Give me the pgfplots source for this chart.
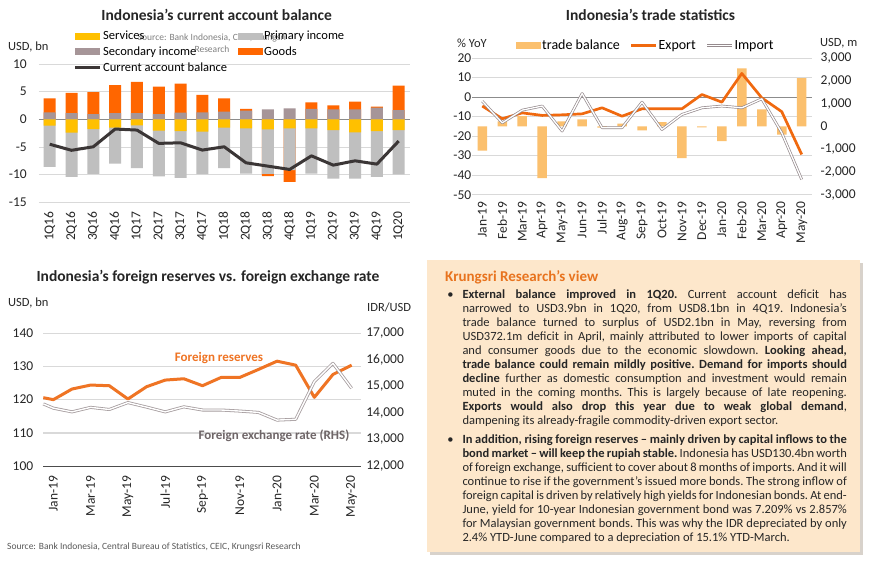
\documentclass[border=0pt]{standalone}
\usepackage{fontspec}
\setmainfont{Carlito}
\usepackage{pgfplots}
\usepackage{pgfplotstable}
\pgfplotsset{compat=1.18}

\definecolor{cGoods}{HTML}{FF6600}
\definecolor{cServ}{HTML}{FFC000}
\definecolor{cPrim}{HTML}{BFBFBF}
\definecolor{cSec}{HTML}{A69598}
\definecolor{cCA}{HTML}{3B3636}
\definecolor{cBal}{HTML}{FBC06E}
\definecolor{cExp}{HTML}{F0690F}
\definecolor{cImp}{HTML}{958A8D}
\definecolor{cRes}{HTML}{EF7424}
\definecolor{cGrid}{HTML}{D9D9D9}
\definecolor{cZero}{HTML}{8C8C8C}
\definecolor{cBox}{HTML}{FDE7CB}
\definecolor{cShadow}{HTML}{D8D2CB}
\definecolor{cHead}{HTML}{E8731E}
\definecolor{cTxt}{HTML}{262626}
\definecolor{cNote}{HTML}{6E6567}

\newcommand\tickfont{\fontsize{13.5}{15}\selectfont}
\newcommand\titlefont{\fontsize{15.5}{17}\selectfont\bfseries}
\newcommand\bul{\makebox[0pt][r]{\textbullet\hspace{9pt}}}

% current account, USD bn
\pgfplotstableread{
x q goods sec serv prim ca
0 1Q16 2.53 1.27 -1.15 -7.45 -4.50
1 2Q16 3.70 1.10 -2.40 -8.00 -5.60
2 3Q16 3.94 0.96 -1.76 -8.09 -4.96
3 4Q16 5.10 1.10 -1.50 -6.50 -1.76
4 1Q17 5.66 1.10 -1.10 -7.70 -1.94
5 2Q17 4.94 0.96 -2.06 -8.24 -4.35
6 3Q17 5.25 1.20 -2.12 -8.48 -4.24
7 4Q17 3.13 1.27 -2.24 -7.66 -5.56
8 1Q18 2.42 1.38 -1.50 -7.30 -4.96
9 2Q18 0.30 1.57 -1.63 -8.17 -7.86
10 3Q18 -0.42 1.80 -1.80 -8.05 -8.46
11 4Q18 -2.10 2.00 -1.63 -7.57 -9.06
12 1Q19 1.21 1.87 -1.63 -8.17 -6.60
13 2Q19 0.74 1.80 -1.94 -8.76 -8.28
14 3Q19 1.40 1.80 -2.36 -8.34 -7.50
15 4Q19 0.18 2.10 -2.12 -8.28 -8.10
16 1Q20 4.42 1.68 -1.94 -8.02 -3.93
}\cadata

% trade: balance USD m, export/import % YoY
\pgfplotstableread{
x m bal exp imp
0 Jan-19 -1070 -4.6 -2.1
1 Feb-19 220 -11.1 -13.2
2 Mar-19 450 -8.1 -6.7
3 Apr-19 -2270 -9.4 -4.6
4 May-19 220 -9.1 -17.4
5 Jun-19 310 -8.6 1.8
6 Jul-19 -60 -5.5 -15.7
7 Aug-19 120 -9.8 -15.7
8 Sep-19 -175 -6.0 -2.6
9 Oct-19 190 -6.0 -16.6
10 Nov-19 -1390 -6.0 -8.9
11 Dec-19 -40 1.3 -5.5
12 Jan-20 -645 -2.6 -4.6
13 Feb-20 2550 12.1 -5.5
14 Mar-20 750 -0.4 -0.9
15 Apr-20 -365 -7.5 -18.3
16 May-20 2120 -29.4 -42.2
}\trade

% reserves USD bn, IDR/USD
\pgfplotstableread{
x res fx
-0.54 120.6 14340
0 120.0 14180
1 123.2 14040
2 124.4 14210
3 124.2 14130
4 120.2 14390
5 123.9 14220
6 125.9 14040
7 126.3 14230
8 124.2 14110
9 126.7 14110
10 126.7 14070
11 129.1 14020
12 131.6 13730
13 130.4 13760
14 120.7 15180
15 127.6 15870
16 130.4 14930
}\reserves

\pgfplotsset{
  base/.style={
    scale only axis, clip=false,
    axis line style={draw=none}, major tick length=0pt,
    ymajorgrids, grid style={draw=cGrid, line width=0.8pt},
    tick label style={font=\tickfont, text=cTxt},
    scaled y ticks=false,
    /pgf/number format/assume math mode=true,
    /pgf/number format/1000 sep={,},
    xticklabel style={rotate=90, anchor=east},
  },
  barleg/.style={legend image code/.code={\fill[##1, draw=none] (0pt,-3.5pt) rectangle (25pt,3.5pt);}},
  lineleg/.style={legend image code/.code={\draw[##1] (0pt,0pt) -- (25pt,0pt);}},
}

\begin{document}
\begin{tikzpicture}
\fill[white] (0,0) rectangle (870pt,-566pt);
\useasboundingbox (0,0) rectangle (870pt,-566pt);

% ---------- current account ----------
\node[font=\titlefont, text=cTxt] at (216.7pt,-15pt) {Indonesia’s current account balance};
\node[anchor=west, font=\fontsize{12.5}{14}\selectfont, text=cTxt, inner sep=0pt] at (8pt,-47pt) {USD, bn};
\node[align=center, font=\fontsize{9.5}{12}\selectfont, text=gray] at (212pt,-43pt) {Source: Bank Indonesia, CEIC, Krungsri\\Research};

\begin{axis}[base, at={(38.8pt,-64pt)}, anchor=north west, width=370.8pt, height=138.3pt,
  xmin=-0.5, xmax=16.5, ymin=-15, ymax=10, ytick={-15,-10,...,10},
  xtick={0,...,16}, xticklabels from table={\cadata}{q},
  xticklabel shift=5.5pt, yticklabel shift=8.5pt,
  legend columns=2, legend cell align=left, lineleg,
  legend style={at={(0.0936,1.25)}, anchor=north west, draw=none, fill=none, inner sep=0pt,
    font=\fontsize{12.5}{14}\selectfont, row sep=2.5pt, nodes={inner sep=1.5pt},
    /tikz/every even column/.append style={column sep=9pt}}]
  \draw[cZero, line width=0.9pt] (axis cs:-0.5,0) -- (axis cs:16.5,0);
  \addplot[ybar, bar width=12pt, bar shift=0pt, fill=cGoods, draw=none, forget plot]
    table[x=x, y expr={\thisrow{goods}>0 ? \thisrow{sec}+\thisrow{goods} : \thisrow{serv}+\thisrow{prim}+\thisrow{goods}}] {\cadata};
  \addplot[ybar, bar width=12pt, bar shift=0pt, fill=cPrim, draw=none, forget plot]
    table[x=x, y expr={\thisrow{serv}+\thisrow{prim}}] {\cadata};
  \addplot[ybar, bar width=12pt, bar shift=0pt, fill=cSec, draw=none, forget plot]
    table[x=x, y=sec] {\cadata};
  \addplot[ybar, bar width=12pt, bar shift=0pt, fill=cServ, draw=none, forget plot]
    table[x=x, y=serv] {\cadata};
  \addplot[cCA, line width=3pt, line join=round, forget plot] table[x=x, y=ca] {\cadata};
  \addlegendimage{barleg, fill=cServ, draw=none}\addlegendentry{Services}
  \addlegendimage{barleg, fill=cPrim, draw=none}\addlegendentry{Primary income}
  \addlegendimage{barleg, fill=cSec, draw=none}\addlegendentry{Secondary income}
  \addlegendimage{barleg, fill=cGoods, draw=none}\addlegendentry{Goods}
  \addlegendimage{cCA, line width=3pt}\addlegendentry{Current account balance}
\end{axis}

% ---------- trade ----------
\node[font=\titlefont, text=cTxt] at (650.5pt,-15pt) {Indonesia’s trade statistics};
\node[anchor=west, font=\fontsize{12.5}{14}\selectfont, text=cTxt, inner sep=0pt] at (457pt,-43pt) {\% YoY};
\node[anchor=west, font=\fontsize{12.5}{14}\selectfont, text=cTxt, inner sep=0pt] at (820pt,-43pt) {USD, m};

\begin{axis}[base, at={(472.3pt,-58pt)}, anchor=north west, width=339.4pt, height=136.7pt,
  xmin=-0.5, xmax=16.5, ymin=-50, ymax=20, ytick={-50,-40,...,20},
  xtick={0,...,16}, xticklabels from table={\trade}{m},
  xticklabel shift=3.5pt, yticklabel shift=-2.5pt]
  \addplot[draw=none, forget plot] table[x=x, y=exp] {\trade};
  \draw[cZero, line width=0.9pt] (axis cs:-0.5,0) -- (axis cs:16.5,0);
\end{axis}
\begin{axis}[base, at={(472.3pt,-58pt)}, anchor=north west, width=339.4pt, height=136.7pt,
  xmin=-0.5, xmax=16.5, ymin=-3000, ymax=3000, ytick={-3000,-2000,...,3000},
  ymajorgrids=false, xtick=\empty, yticklabel pos=right, yticklabel shift=5.5pt]
  \addplot[ybar, bar width=9.5pt, bar shift=0pt, fill=cBal, draw=none] table[x=x, y=bal] {\trade};
\end{axis}
\begin{axis}[base, at={(472.3pt,-58pt)}, anchor=north west, width=339.4pt, height=136.7pt,
  xmin=-0.5, xmax=16.5, ymin=-50, ymax=20, ymajorgrids=false, xtick=\empty, ytick=\empty,
  lineleg, legend columns=-1,
  legend style={at={(0.1288,1.143)}, anchor=north west, draw=none, fill=none, inner sep=0pt,
    font=\fontsize{14}{15}\selectfont, nodes={inner sep=1pt},
    /tikz/every even column/.append style={column sep=9pt}}]
  \addlegendimage{barleg, fill=cBal, draw=none}\addlegendentry{trade balance}
  \addplot[cExp, line width=2.7pt, line join=round] table[x=x, y=exp] {\trade};
  \addlegendentry{Export}
  \addplot[draw=cImp, double=white, double distance=1.3pt, line width=0.7pt, line join=round] table[x=x, y=imp] {\trade};
  \addlegendentry{Import}
\end{axis}

% ---------- reserves ----------
\node[font=\titlefont, text=cTxt] at (208pt,-276.7pt) {Indonesia’s foreign reserves vs. foreign exchange rate};
\node[anchor=west, font=\fontsize{12.5}{14}\selectfont, text=cTxt, inner sep=0pt] at (8pt,-303.3pt) {USD, bn};
\node[anchor=west, font=\fontsize{12.5}{14}\selectfont, text=cTxt, inner sep=0pt] at (367pt,-307.3pt) {IDR/USD};

\begin{axis}[base, at={(43.3pt,-333.3pt)}, anchor=north west, width=318pt, height=132.7pt,
  xmin=-0.54, xmax=16.52, ymin=100, ymax=140, ytick={110,120,...,140},
  extra y ticks={100}, extra y tick style={grid style={draw=black!70, line width=1pt}},
  grid style={draw=cGrid, line width=1.6pt},
  xtick={0,2,...,16}, xticklabels={Jan-19,Mar-19,May-19,Jul-19,Sep-19,Nov-19,Jan-20,Mar-20,May-20},
  xticklabel shift=6.5pt, yticklabel shift=6.5pt]
  \addplot[cRes, line width=3pt, line join=round] table[x=x, y=res] {\reserves};
\end{axis}
\begin{axis}[base, at={(43.3pt,-333.3pt)}, anchor=north west, width=318pt, height=132.7pt,
  xmin=-0.54, xmax=16.52, ymin=12000, ymax=17000, ytick={12000,13000,...,17000},
  ymajorgrids=false, xtick=\empty, yticklabel pos=right, yticklabel shift=1.5pt]
  \addplot[draw=cImp!85, double=white, double distance=1.4pt, line width=0.8pt, line join=round] table[x=x, y=fx] {\reserves};
\end{axis}
\node[font=\fontsize{13}{14}\selectfont\bfseries, text=cRes] at (219pt,-357.7pt) {Foreign reserves};
\node[font=\fontsize{13}{14}\selectfont\bfseries, text=cNote] at (274pt,-435.7pt) {Foreign exchange rate (RHS)};

\node[anchor=west, inner sep=0pt, font=\fontsize{9.5}{11}\selectfont, text=black!65] at (7pt,-547pt)
  {Source: Bank Indonesia, Central Bureau of Statistics, CEIC, Krungsri Research};

% ---------- view box ----------
\fill[cShadow] (430pt,-263pt) rectangle (863pt,-555pt);
\fill[cBox] (427pt,-260pt) rectangle (860pt,-552pt);
\node[anchor=west, inner sep=0pt, font=\fontsize{15}{17}\selectfont\bfseries, text=cHead] at (445pt,-277pt) {Krungsri Research’s view};
\node[anchor=north west, inner sep=0pt, text width=384.4pt, align=justify,
  font=\fontsize{12.5}{14}\selectfont\frenchspacing, text=cTxt] at (462.3pt,-290pt) {%
\bul\textbf{External balance improved in 1Q20.} Current account deficit has\linebreak
narrowed to USD3.9bn in 1Q20, from USD8.1bn in 4Q19. Indonesia's\linebreak
trade balance turned to surplus of USD2.1bn in May, reversing from\linebreak
USD372.1m deficit in April, mainly attributed to lower imports of capital\linebreak
and consumer goods due to the economic slowdown. \textbf{Looking ahead,}\linebreak
\textbf{trade balance could remain mildly positive. Demand for imports should}\linebreak
\textbf{decline} further as domestic consumption and investment would remain\linebreak
muted in the coming months. This is largely because of late reopening.\linebreak
\textbf{Exports would also drop this year due to weak global demand},\linebreak
dampening its already-fragile commodity-driven export sector.\par\vspace{4.3pt}
\bul\textbf{In addition, rising foreign reserves – mainly driven by capital inflows to the}\linebreak
\textbf{bond market – will keep the rupiah stable.} Indonesia has USD130.4bn worth\linebreak
of foreign exchange, sufficient to cover about 8 months of imports. And it will\linebreak
continue to rise if the government’s issued more bonds. The strong inflow of\linebreak
foreign capital is driven by relatively high yields for Indonesian bonds. At end-\linebreak
June, yield for 10-year Indonesian government bond was 7.209\% vs 2.857\%\linebreak
for Malaysian government bonds. This was why the IDR depreciated by only\linebreak
2.4\% YTD-June compared to a depreciation of 15.1\% YTD-March.};
\end{tikzpicture}
\end{document}
